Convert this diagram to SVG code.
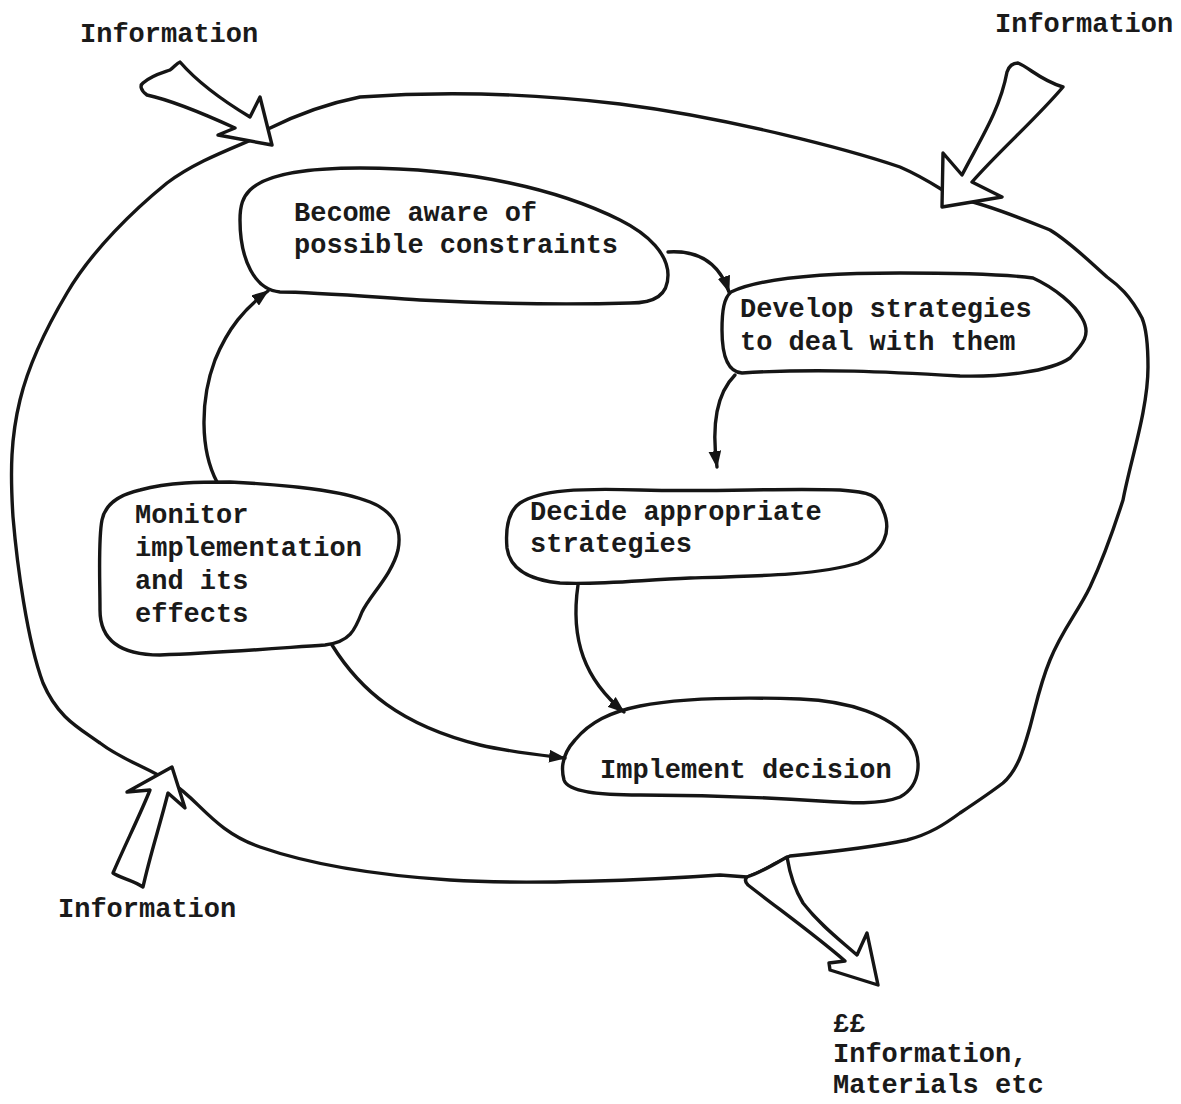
<svg xmlns="http://www.w3.org/2000/svg" width="1181" height="1104" viewBox="0 0 1181 1104">
  <style>
    .line { fill: none; stroke: #151515; stroke-width: 3.4; stroke-linecap: round; stroke-linejoin: round; }
    .node { fill: #ffffff; stroke: #151515; stroke-width: 3.4; stroke-linejoin: round; }
    .fat { fill: #ffffff; stroke: #151515; stroke-width: 3.4; stroke-linejoin: round; }
    text { font-family: "Liberation Mono", "DejaVu Sans Mono", monospace; font-size: 27px; font-weight: bold; fill: #1a1a1a; }
  </style>
  <defs>
    <marker id="head" viewBox="0 0 16 12" refX="15" refY="6" markerWidth="17" markerHeight="13" markerUnits="userSpaceOnUse" orient="auto">
      <path d="M0,0 L16,6 L0,12 Z" fill="#151515"/>
    </marker>
  </defs>
  <rect width="1181" height="1104" fill="#ffffff"/>

  <!-- outer environment loop -->
  <g id="outer-loop">
    <path class="line" d="M258,137 C228,150 195,162 167,183 C135,209 92,250 67,293 C45,330 29,363 20,400 C11,437 10,470 13,517 C17,564 27,640 43,683 C58,718 79,728 100,743 C122,760 145,766 172,783 C199,800 214,831 260,847 C306,863 373,875 450,880 C527,885 650,880 720,875 L747,877 C760,873 770,866 780,861 L790,856 C820,853 870,848 907,840 C930,834 945,824 960,813 C975,803 990,793 1003,783 C1018,770 1024,748 1030,727 C1036,705 1040,684 1050,660 C1062,630 1078,612 1090,587 C1105,555 1115,525 1123,500 C1130,462 1148,410 1148,367 C1148,345 1147,330 1142,318 C1130,295 1118,285 1107,277 C1090,262 1070,242 1050,230 C1030,222 990,205 957,198 C945,193 930,180 900,167 C850,150 730,118 620,104 C520,92 430,92 360,97 C320,105 290,118 268,129"/>
  </g>

  <!-- information flows in and out -->
  <g id="flow-in-top-left">
    <path class="fat" d="M180,62 C200,85 230,105 250,117 L260,97 L272,145 L218,135 L235,128 C200,112 170,100 147,95 C140,90 140,85 143,83 C152,75 165,72 170,70 C175,66 177,63 180,62 Z"/>
    <text x="80" y="42">Information</text>
  </g>
  <g id="flow-in-top-right">
    <path class="fat" d="M1018,63 C1030,68 1040,80 1063,87 C1035,120 1000,150 972,182 L1002,197 L942,207 L943,153 L962,175 C980,140 1000,110 1007,72 C1009,66 1013,63 1018,63 Z"/>
    <text x="995" y="32">Information</text>
  </g>
  <g id="flow-in-bottom-left">
    <path class="fat" d="M172,767 L185,808 L168,793 C160,825 150,855 143,887 C133,880 120,878 113,873 C125,845 140,815 150,790 L127,792 Z"/>
    <text x="58" y="917">Information</text>
  </g>
  <g id="flow-out">
    <path class="fat" d="M787,857 C790,875 795,890 803,903 C820,925 840,940 857,955 L867,933 L878,985 L830,970 L829,963 L845,961 C815,935 780,910 748,885 C745,882 745,879 747,877 C760,873 775,864 787,857 Z"/>
    <text x="833" y="1032">££</text>
    <text x="833" y="1062">Information,</text>
    <text x="833" y="1093">Materials etc</text>
  </g>

  <!-- activity nodes -->
  <g id="node-aware">
    <path class="node" d="M250,190 C265,175 300,168 360,168 C470,168 560,190 620,220 C650,235 668,255 668,275 C668,295 655,303 630,303 C560,305 480,303 420,300 C360,296 310,292 280,292 C255,290 240,260 240,220 C240,205 243,197 250,190 Z"/>
    <text x="294" y="221">Become aware of</text>
    <text x="294" y="253">possible constraints</text>
  </g>
  <g id="node-develop">
    <path class="node" d="M731,292 C760,278 820,273 900,273 C960,273 1010,275 1033,278 C1055,288 1075,305 1082,318 C1092,335 1082,345 1070,358 C1050,372 1000,377 960,376 C890,372 820,368 742,373 C728,372 722,355 722,330 C722,310 724,298 731,292 Z"/>
    <text x="740" y="317">Develop strategies</text>
    <text x="740" y="350">to deal with them</text>
  </g>
  <g id="node-decide">
    <path class="node" d="M520,503 C540,490 580,488 640,490 C720,492 780,488 840,490 C870,492 878,495 883,510 C892,530 885,552 858,563 C820,575 760,576 690,578 C640,580 600,585 560,583 C530,580 510,570 507,548 C505,525 510,510 520,503 Z"/>
    <text x="530" y="520">Decide appropriate</text>
    <text x="530" y="552">strategies</text>
  </g>
  <g id="node-implement">
    <path class="node" d="M575,740 C590,722 610,712 640,706 C680,698 740,697 800,699 C850,701 890,715 910,740 C922,757 922,785 900,797 C880,805 850,803 820,801 C760,797 700,795 640,795 C600,795 568,792 564,780 C560,765 564,752 575,740 Z"/>
    <text x="600" y="778">Implement decision</text>
  </g>
  <g id="node-monitor">
    <path class="node" d="M140,490 C170,482 200,482 230,482 C290,485 340,490 370,502 C395,512 402,530 398,550 C392,575 370,595 362,612 C355,630 350,642 325,645 C280,648 220,653 160,655 C120,655 100,640 100,610 C100,580 98,540 102,520 C105,505 118,495 140,490 Z"/>
    <text x="135" y="523">Monitor</text>
    <text x="135" y="556">implementation</text>
    <text x="135" y="589">and its</text>
    <text x="135" y="622">effects</text>
  </g>

  <!-- cycle connectors -->
  <g id="connectors">
    <path class="line" marker-end="url(#head)" d="M668,252 C700,250 720,265 729,292"/>
    <path class="line" marker-end="url(#head)" d="M735,375 C715,395 712,430 717,467"/>
    <path class="line" marker-end="url(#head)" d="M578,585 C570,640 585,680 624,712"/>
    <path class="line" marker-end="url(#head)" d="M332,645 C360,690 400,725 480,745 C510,752 540,755 565,758"/>
    <path class="line" marker-end="url(#head)" d="M217,482 C200,450 200,400 215,360 C228,328 245,308 268,291"/>
  </g>
</svg>
